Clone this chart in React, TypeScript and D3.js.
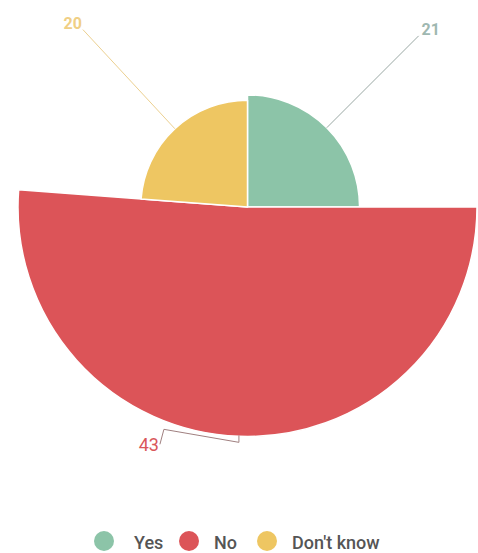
import React from "react";
import * as d3 from "d3";

const categories = ["Yes", "No", "Don't know"];
const values = [21, 43, 20];
const colors = ["#8cc4a8", "#dc5458", "#eec662"];
const labelColors = ["#9fb8b1", "#d9575a", "#f0cf85"];

const W = 478;
const H = 553;
const cx = 247.5;
const cy = 207;

export default function App() {
  const pie = d3.pie<number>().sort(null).value((d) => d);
  const arcs = pie(values);
  const rScale = d3.scaleLinear().domain([0, 43]).range([0, 229.5]);
  const arcGen = d3.arc<d3.PieArcDatum<number>>()
    .innerRadius(0)
    .outerRadius((d) => rScale(d.data));

  const pt = (a: number, r: number) => [Math.sin(a) * r, -Math.cos(a) * r];

  const legendX = [104, 189, 267];
  const legendTextX = [134, 214, 292];

  return (
    <svg width={W} height={H} style={{ position: "absolute", left: 0, top: 0, background: "#fff" }}
      fontFamily="Roboto, sans-serif">
      <g transform={`translate(${cx},${cy})`}>
        {arcs.map((a, i) => (
          <path key={i} d={arcGen(a) || ""} fill={colors[i]} stroke="#fff" strokeWidth={1.5} strokeLinejoin="round" />
        ))}
        {arcs.map((a, i) => {
          const mid = (a.startAngle + a.endAngle) / 2;
          const r = rScale(a.data);
          const [x0, y0] = pt(mid, r);
          if (i === 1) {
            const p1 = [x0, y0 + 6];
            const p2 = [x0 - 75, y0 - 7];
            const p3 = [p2[0] - 4, p2[1] + 15];
            return (
              <g key={i}>
                <polyline points={[[x0, y0 - 1], p1, p2, p3].map((p) => p.join(",")).join(" ")}
                  fill="none" stroke="#a08080" strokeWidth={1} />
                <text x={p3[0] - 1} y={p3[1] + 7} textAnchor="end" fontSize={18} fill={labelColors[i]}>{a.data}</text>
              </g>
            );
          }
          const [x1, y1] = pt(mid, 242);
          const right = x1 > 0;
          return (
            <g key={i}>
              <line x1={x0} y1={y0} x2={x1} y2={y1} stroke={i === 0 ? "#9aa8a4" : "#ecd090"} strokeWidth={1} />
              <text x={right ? x1 + 3 : x1 - 1} y={y1 - 1} textAnchor={right ? "start" : "end"}
                fontSize={16} fontWeight="bold" fill={labelColors[i]}>{a.data}</text>
            </g>
          );
        })}
      </g>
      <g>
        {categories.map((c, i) => (
          <g key={c}>
            <circle cx={legendX[i]} cy={541} r={10} fill={colors[i]} />
            <text x={legendTextX[i]} y={549} fontSize={18} fontWeight={500} fill="#555">{c}</text>
          </g>
        ))}
      </g>
    </svg>
  );
}
